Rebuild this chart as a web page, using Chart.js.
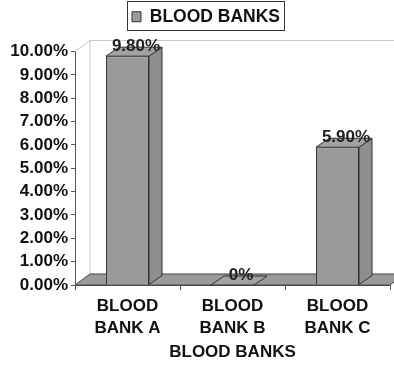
<!DOCTYPE html>
<html lang="en">
<head>
  <meta charset="utf-8">
  <title>Blood Banks</title>
  <script src="https://cdn.jsdelivr.net/npm/chart.js"></script>
  <style>
    html, body { margin: 0; padding: 0; background: #fff; }
    #wrap { width: 394px; height: 367px; }
  </style>
</head>
<body>
  <div id="wrap"><canvas id="chart" width="394" height="367"></canvas></div>
  <script>
    // data
    const categories = [['BLOOD', 'BANK A'], ['BLOOD', 'BANK B'], ['BLOOD', 'BANK C']];
    const seriesName = 'BLOOD BANKS';
    const values = [9.8, 0, 5.9];
    const valueLabels = ['9.80%', '0%', '5.90%'];
    const yMin = 0, yMax = 10, yStep = 1;
    const xTitle = 'BLOOD BANKS';

    const FONT = 'Liberation Sans, Arial, sans-serif';
    const DX = 13, DY = -9;       // bar depth
    const FDX = 15, FDY = -11;    // floor / wall depth

    // fake 3D: back wall, floor, bar sides and tops, value labels
    const threeD = {
      id: 'threeD',
      afterLayout(chart) {
        // legend sits higher and a bit right of centre in the original
        const lg = chart.legend;
        if (!lg) return;
        lg.top -= 16; lg.bottom -= 16;
        lg.left += 11; lg.right += 11;
      },
      beforeDatasetsDraw(chart) {
        const ctx = chart.ctx, a = chart.chartArea;
        ctx.save();
        // back walls
        ctx.strokeStyle = '#c8c8c8';
        ctx.lineWidth = 1;
        ctx.beginPath();
        ctx.moveTo(a.left, a.top);
        ctx.lineTo(a.left + FDX, a.top + FDY);
        ctx.lineTo(chart.width, a.top + FDY);
        ctx.moveTo(a.left + FDX, a.top + FDY);
        ctx.lineTo(a.left + FDX, a.bottom + FDY);
        ctx.stroke();
        // floor
        ctx.fillStyle = '#9a9a9a';
        ctx.strokeStyle = '#444';
        ctx.beginPath();
        ctx.moveTo(a.left, a.bottom);
        ctx.lineTo(a.left + FDX, a.bottom + FDY);
        ctx.lineTo(a.right + FDX, a.bottom + FDY);
        ctx.lineTo(a.right, a.bottom);
        ctx.closePath();
        ctx.fill();
        ctx.stroke();
        ctx.restore();
      },
      afterDatasetsDraw(chart) {
        const ctx = chart.ctx;
        const meta = chart.getDatasetMeta(0);
        ctx.save();
        ctx.lineWidth = 1;
        ctx.strokeStyle = '#333';
        meta.data.forEach((bar, i) => {
          const l = bar.x - bar.width / 2, r = bar.x + bar.width / 2;
          const t = bar.y, b = bar.base;
          if (b - t > 0.5) {
            // side
            ctx.fillStyle = '#8e8e8e';
            ctx.beginPath();
            ctx.moveTo(r, b);
            ctx.lineTo(r + DX, b + DY);
            ctx.lineTo(r + DX, t + DY);
            ctx.lineTo(r, t);
            ctx.closePath();
            ctx.fill();
            ctx.stroke();
          }
          // top
          ctx.fillStyle = '#a2a2a2';
          ctx.beginPath();
          ctx.moveTo(l, t);
          ctx.lineTo(l + DX, t + DY);
          ctx.lineTo(r + DX, t + DY);
          ctx.lineTo(r, t);
          ctx.closePath();
          ctx.fill();
          ctx.stroke();
          // value label
          ctx.fillStyle = '#222';
          ctx.font = 'bold 17px ' + FONT;
          ctx.textAlign = 'center';
          ctx.textBaseline = 'middle';
          ctx.fillText(valueLabels[i], bar.x + 8.5, t + DY - 1);
        });
        ctx.restore();
      },
      afterDraw(chart) {
        // frame round the legend item
        const lg = chart.legend;
        if (!lg || !lg.legendHitBoxes || !lg.legendHitBoxes.length) return;
        const hb = lg.legendHitBoxes[0];
        const ctx = chart.ctx;
        ctx.save();
        ctx.strokeStyle = '#333';
        ctx.lineWidth = 1;
        ctx.strokeRect(Math.round(hb.left) - 4.5, Math.round(hb.top) - 6.5, Math.round(hb.width) + 9, Math.round(hb.height) + 11);
        ctx.restore();
      }
    };

    new Chart(document.getElementById('chart'), {
      type: 'bar',
      data: {
        labels: categories,
        datasets: [{
          label: seriesName,
          data: values,
          backgroundColor: '#9a9a9a',
          borderColor: '#333',
          borderWidth: 1,
          categoryPercentage: 1,
          barPercentage: 0.41
        }]
      },
      options: {
        responsive: false,
        animation: false,
        layout: { padding: { top: 14, right: 4, left: 0, bottom: 0 } },
        plugins: {
          legend: {
            position: 'top',
            labels: {
              boxWidth: 9,
              boxHeight: 10,
              padding: 10,
              color: '#111',
              font: { family: FONT, size: 17.5, weight: 'bold' }
            }
          },
          tooltip: { enabled: false }
        },
        scales: {
          x: {
            grid: { drawOnChartArea: false, tickLength: 5, color: '#555' },
            border: { color: '#555' },
            ticks: {
              color: '#111',
              padding: 5,
              maxRotation: 0,
              font: { family: FONT, size: 17, weight: 'bold', lineHeight: 1.3 }
            },
            title: {
              display: true,
              text: xTitle,
              color: '#111',
              padding: { top: 4, bottom: 4 },
              font: { family: FONT, size: 17, weight: 'bold' }
            },
            afterFit(scale) { scale.height = 82; }
          },
          y: {
            min: yMin,
            max: yMax,
            grid: { drawOnChartArea: false, tickLength: 4, color: '#555' },
            border: { color: '#555' },
            ticks: {
              stepSize: yStep,
              autoSkip: false,
              color: '#111',
              padding: 3,
              font: { family: FONT, size: 17, weight: 'bold' },
              callback: v => v.toFixed(2) + '%'
            },
            afterFit(scale) { scale.width = 75; }
          }
        }
      },
      plugins: [threeD]
    });
  </script>
</body>
</html>
